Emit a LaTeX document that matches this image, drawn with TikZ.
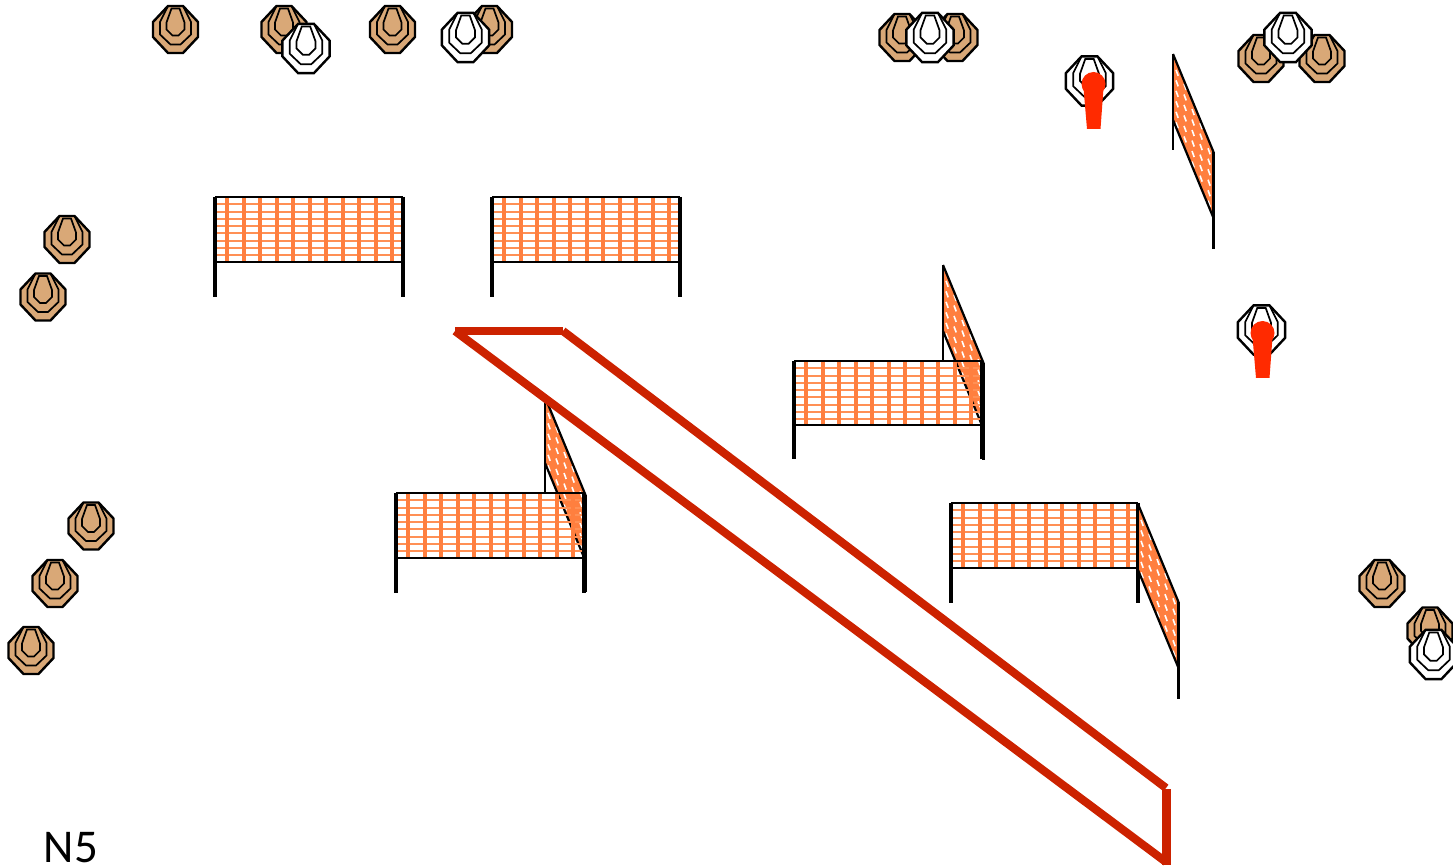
\documentclass[tikz,border=0pt]{standalone}
\usepackage{fontspec}
\setmainfont{Carlito}
\definecolor{tanfill}{HTML}{D9A877}
\definecolor{mesh}{HTML}{FF7F3F}
\definecolor{meshlight}{HTML}{FF9055}
\definecolor{routeline}{HTML}{CC2200}
\definecolor{pinred}{HTML}{FF2A00}
\tikzset{
  outerring/.style={draw=black,line width=1.2pt,line join=miter},
  innerring/.style={draw=black,line width=.85pt,line join=miter},
  postline/.style={draw=black,line width=1.8pt},
  thinpost/.style={draw=black,line width=1.1pt},
  railline/.style={draw=black,line width=1.1pt},
  meshh/.style={draw=meshlight,line width=1pt},
  meshv/.style={draw=mesh,line width=2pt},
  routestyle/.style={draw=routeline,line width=4.1pt,line cap=butt},
  pinstyle/.style={fill=pinred,draw=none}
}
% target: x y fill scale
\newcommand{\tgt}[4][1]{%
  \begin{scope}[shift={(#2,#3)},scale=#1]
    \path[outerring,fill=#4] (-7.5,-23.5)--(7.5,-23.5)--(22.5,-7.5)--(22.5,7.5)--(7.5,23.5)--(-7.5,23.5)--(-22.5,7.5)--(-22.5,-7.5)--cycle;
    \path[innerring] (-7.5,-23.5)--(-15.5,-7.5)--(-15.5,5)--(-5,15)--(5,15)--(15.5,5)--(15.5,-7.5)--(7.5,-23.5);
    \path[innerring] (-4,-21)--(4,-21)--(9,-7)--(9,0)--(3,6)--(-3,6)--(-9,0)--(-9,-7)--cycle;
  \end{scope}}
% fence: x1 x2 ytop ybot ypost
\newcommand{\fence}[5]{%
  \foreach \k in {1,...,8}{\draw[meshh] (#1,{#3+7.3*\k}) -- (#2,{#3+7.3*\k});}
  \foreach \k in {1,...,11}{\draw[meshv] ({#1+12+16.5*(\k-1)},#3) -- ({#1+12+16.5*(\k-1)},#4);}
  \draw[railline] (#1,#3) -- (#2,#3);
  \draw[railline] (#1,#4) -- (#2,#4);
  \draw[postline] (#1,#3) -- (#1,#5);
  \draw[postline] (#2,#3) -- (#2,#5);}
% side panel: x y (top-left)
\newcommand{\panel}[2]{%
  \begin{scope}[shift={(#1,#2)}]
    \begin{scope}
      \clip (0,0)--(40.5,98)--(40.5,164)--(0,66)--cycle;
      \fill[mesh] (0,0)--(40.5,98)--(40.5,164)--(0,66)--cycle;
      \foreach \c in {0,...,4}{\foreach \r in {0,...,7}{
        \pgfmathsetmacro{\xx}{3+\c*8}
        \pgfmathsetmacro{\yy}{\xx*2.45+\r*10.5+mod(\c,2)*5-2}
        \draw[white,line width=.8pt] (\xx,\yy) -- ++(2.2,6);
      }}
    \end{scope}
    \draw[railline] (0,0)--(40.5,98)--(40.5,164)--(0,66);
    \draw[thinpost] (0,0) -- (0,96);
    \draw[thinpost] (40.5,98) -- (40.5,195);
  \end{scope}}
\newcommand{\pin}[2]{%
  \begin{scope}[shift={(#1,#2)}]
    \path[pinstyle] (0,0) circle (12);
    \path[pinstyle] (-10,4)--(10,4)--(7,45)--(-6.5,45)--cycle;
  \end{scope}}
\begin{document}
\begin{tikzpicture}[x=0.5pt,y=-0.5pt]
\useasboundingbox (0,0) rectangle (1453,866);
% top-left targets
\tgt{175.5}{29.5}{tanfill}
\tgt{284}{29.5}{tanfill}
\tgt[1.05]{306}{48.5}{white}
\tgt{489.5}{29.5}{tanfill}
\tgt{392.5}{29.5}{tanfill}
\tgt[1.05]{465.5}{37.5}{white}
% top-middle
\tgt{955}{37.5}{tanfill}
\tgt{902}{37.5}{tanfill}
\tgt[1.05]{930}{37.5}{white}
% top-right
\tgt{1261}{58.5}{tanfill}
\tgt{1322}{58.5}{tanfill}
\tgt[1.05]{1288}{37.5}{white}
\tgt[1.05]{1089.5}{81}{white}
\pin{1093.5}{84}
\tgt[1.05]{1261.5}{330}{white}
\pin{1262.5}{333}
% left
\tgt{67}{239.5}{tanfill}
\tgt{43}{297}{tanfill}
\tgt{91}{526}{tanfill}
\tgt{55}{583.5}{tanfill}
\tgt{31}{650.5}{tanfill}
% right
\tgt{1382}{583.5}{tanfill}
\tgt{1430}{631}{tanfill}
\tgt[1.05]{1433.5}{654.5}{white}
% panels
\panel{1173}{54}
\panel{943}{265}
\panel{545}{397}
% fences
\fence{215}{403}{197}{262}{297}
\fence{492}{680}{197}{262}{297}
\fence{794}{982}{361}{425}{459}
\fence{396}{584}{493}{558}{593}
\fence{951}{1138}{503}{568}{603}
\panel{1138}{504}
% route
\coordinate (ra) at (455,331);
\coordinate (rb) at (563,331);
\coordinate (rc) at (1166,788);
\coordinate (rd) at (1166.5,789);
\coordinate (re) at (1166.5,865);
\coordinate (rf) at (1166,862);
\draw[routestyle] (ra) -- (rb);
\draw[routestyle] (rb) -- (rc);
\draw[routestyle] (rd) -- (re);
\draw[routestyle] (rf) -- (ra);
\node[anchor=base west,inner sep=0pt,font=\fontsize{23.5pt}{23.5pt}\selectfont] (label) at (43.5,862) {N5};
\end{tikzpicture}
\end{document}
